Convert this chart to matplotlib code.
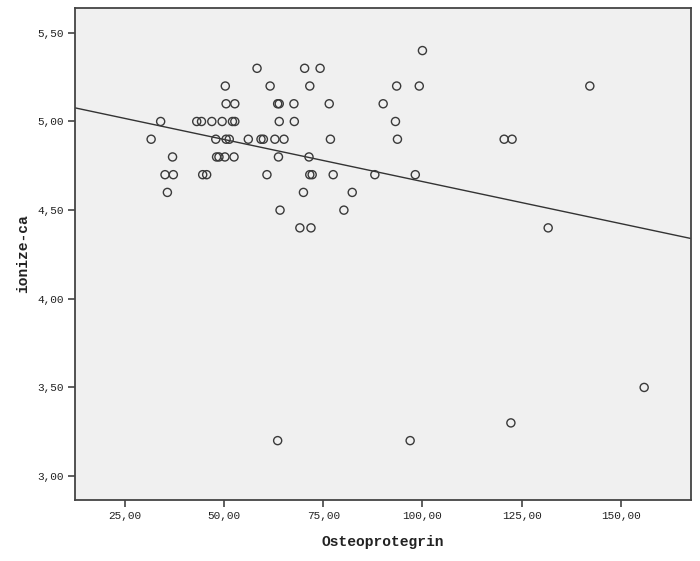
import numpy as np
import matplotlib
matplotlib.use("Agg")
import matplotlib.pyplot as plt

# Data
osteoprotegrin = [31.6, 34.0, 35.1, 35.7, 37.0, 37.2, 43.1, 44.3, 44.6, 45.6,
                  46.9, 47.9, 48.1, 48.7, 49.5, 50.2, 50.3, 50.5, 50.5, 51.3,
                  52.1, 52.5, 52.7, 52.7, 56.1, 58.3, 59.3, 59.9, 60.8, 61.6,
                  62.8, 63.5, 63.9, 63.9, 63.7, 63.5, 64.1, 65.1, 67.6, 67.7,
                  69.1, 70.0, 70.3, 71.6, 71.4, 71.6, 72.2, 71.9, 74.2, 76.5,
                  76.8, 77.5, 80.2, 82.3, 88.0, 90.1, 93.2, 93.5, 93.7, 96.9,
                  98.2, 99.2, 100.0, 120.6, 122.6, 122.3, 131.7, 142.2, 155.9]
ionize_ca = [4.9, 5.0, 4.7, 4.6, 4.8, 4.7, 5.0, 5.0, 4.7, 4.7,
             5.0, 4.9, 4.8, 4.8, 5.0, 4.8, 5.2, 5.1, 4.9, 4.9,
             5.0, 4.8, 5.0, 5.1, 4.9, 5.3, 4.9, 4.9, 4.7, 5.2,
             4.9, 5.1, 5.1, 5.0, 4.8, 3.2, 4.5, 4.9, 5.1, 5.0,
             4.4, 4.6, 5.3, 5.2, 4.8, 4.7, 4.7, 4.4, 5.3, 5.1,
             4.9, 4.7, 4.5, 4.6, 4.7, 5.1, 5.0, 5.2, 4.9, 3.2,
             4.7, 5.2, 5.4, 4.9, 4.9, 3.3, 4.4, 5.2, 3.5]

x_ticks = [25, 50, 75, 100, 125, 150]
x_tick_labels = ["25,00", "50,00", "75,00", "100,00", "125,00", "150,00"]
y_ticks = [3.0, 3.5, 4.0, 4.5, 5.0, 5.5]
y_tick_labels = ["3,00", "3,50", "4,00", "4,50", "5,00", "5,50"]

x_label = "Osteoprotegrin"
y_label = "ionize-ca"

fig = plt.figure(figsize=(7.0, 5.61), dpi=100)
ax = fig.add_axes([0.1071, 0.1087, 0.88, 0.8770])
ax.set_facecolor("#F0F0F0")

xmin, xmax = 12.4, 167.7
ymin, ymax = 2.865, 5.640
ax.set_xlim(xmin, xmax)
ax.set_ylim(ymin, ymax)

ax.scatter(osteoprotegrin, ionize_ca, s=34, facecolors="none",
           edgecolors="#3a3a3a", linewidths=1.0, zorder=3)

# Linear fit line
slope, intercept = np.polyfit(osteoprotegrin, ionize_ca, 1)
xs = np.array([xmin, xmax])
ax.plot(xs, intercept + slope * xs, color="#333333", linewidth=1.0, zorder=2)

mono = "Liberation Mono"
ax.set_xticks(x_ticks)
ax.set_xticklabels(x_tick_labels, fontfamily=mono, fontsize=8, color="#222222")
ax.set_yticks(y_ticks)
ax.set_yticklabels(y_tick_labels, fontfamily=mono, fontsize=8, color="#222222")
ax.tick_params(direction="out", length=5, width=1.2, color="#444444", pad=3)

for sp in ax.spines.values():
    sp.set_color("#444444")
    sp.set_linewidth(1.3)

ax.set_xlabel(x_label, fontfamily=mono, fontweight="bold", fontsize=10.5,
              color="#222222", labelpad=10)
ax.set_ylabel(y_label, fontfamily=mono, fontweight="bold", fontsize=10.5,
              color="#222222", labelpad=5)

fig.savefig("out.png", dpi=100, facecolor="white")
